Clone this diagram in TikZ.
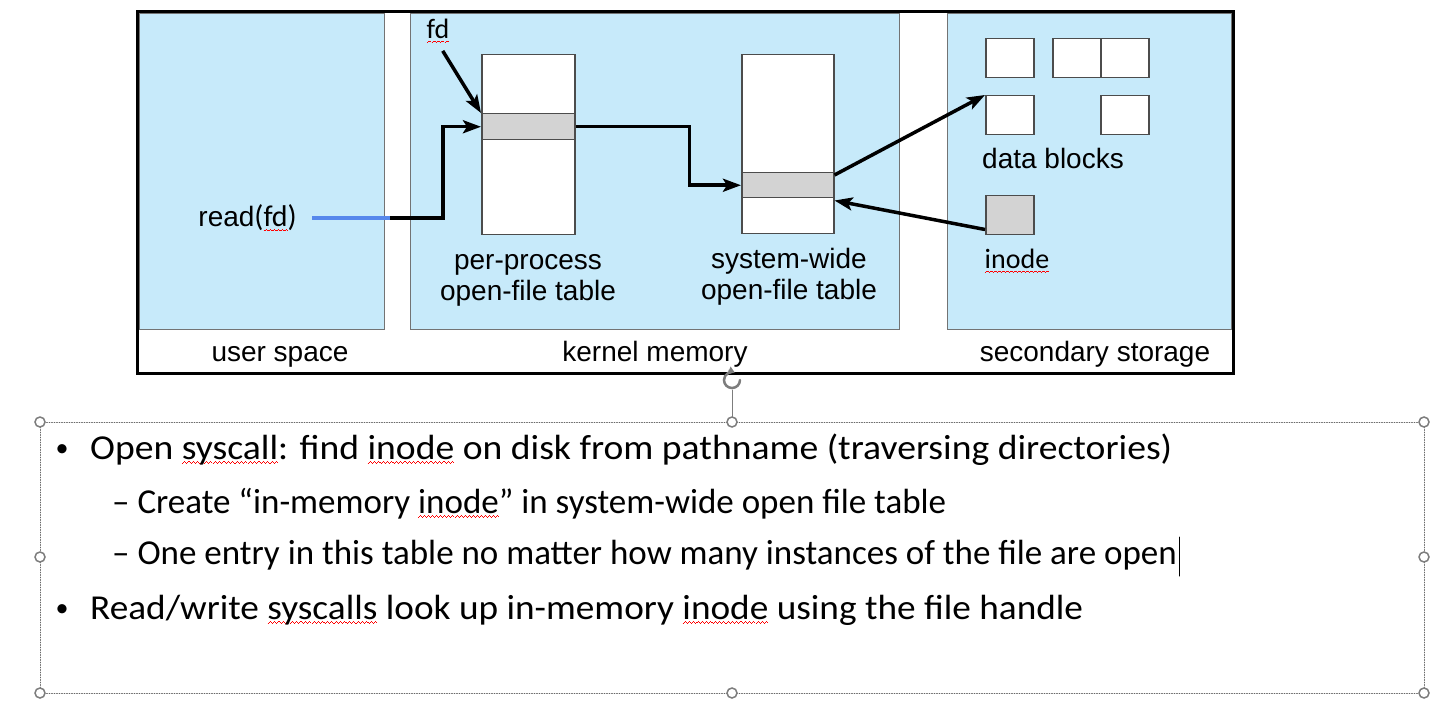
\documentclass[tikz,border=0pt]{standalone}
\usepackage{fontspec}
\setmainfont{Liberation Sans}
\newfontfamily\slidefont{Carlito}
\usetikzlibrary{arrows.meta,calc}
% red wavy underline, as a spell checker draws it
\newsavebox\spellbox
\newcommand\wavebit{\hbox{\rule[-4.6pt]{1pt}{0.9pt}\rule[-3.8pt]{1pt}{0.9pt}\rule[-3pt]{1pt}{0.9pt}\rule[-3.8pt]{1pt}{0.9pt}}}
\newcommand\spellerr[1]{\sbox\spellbox{#1}\rlap{\color{red}\hbox to\wd\spellbox{\xleaders\wavebit\hfil}}\usebox\spellbox}

\begin{document}
\begin{tikzpicture}
		[x=1pt,y=-1pt,line cap=round,
		%Styles
		panel/.style={draw=black!55,line width=1pt,fill=panelblue},
		table box/.style={draw=black!70,line width=1.5pt,fill=white,inner sep=0,anchor=north west},
		entry row/.style={table box,fill=rowgray},
		block/.style={table box,minimum width=48,minimum height=39},
		label text/.style={font=\fontsize{28}{31}\selectfont,inner sep=0,align=center},
		narrow text/.style={label text,font=\slidefont\fontsize{28}{31}\selectfont},
		arrow/.style={line width=3.5pt,line cap=butt,-{Stealth[length=18pt,width=13pt,inset=4pt]}},
		read line/.style={readblue,line width=3.5pt,line cap=butt},
		bullet text/.style={font=\slidefont\fontsize{35}{42}\selectfont,inner sep=0,anchor=base west},
		bullet dot/.style={font=\slidefont\fontsize{26}{30}\selectfont,inner sep=0,anchor=base},
		dotted box/.style={draw=black!60,line width=0.8pt,dash pattern=on 1pt off 1.5pt},
		handle/.style={circle,draw=handlegray,line width=1.5pt,fill=white,inner sep=0,minimum size=10}
		]
		
		%Colors
		\definecolor{panelblue}{RGB}{199,234,250}
		\definecolor{rowgray}{RGB}{211,211,211}
		\definecolor{readblue}{RGB}{86,136,236}
		\definecolor{handlegray}{RGB}{125,125,125}
		
		\useasboundingbox (0,0) rectangle (1449,714);
		
		%The graphic
		\draw[panel] (139,14) rectangle (384,329);
		\draw[panel] (410,14) rectangle (899,329);
		\draw[panel] (947,14) rectangle (1231,329);
		\draw[line width=3pt] (137,12) rectangle (1233,373);
		
		\node[label text,anchor=base] (userlabel) at (280,361) {user space};
		\node[label text,anchor=base] (kernellabel) at (655,361) {kernel memory};
		\node[label text,anchor=base] (storagelabel) at (1095,361) {secondary storage};
		
		%tables
		\node[table box,minimum width=93,minimum height=180] (pp) at (481,54) {};
		\node[entry row,minimum width=93,minimum height=26] (pprow) at (481,113) {};
		\node[table box,minimum width=92,minimum height=179] (sw) at (741,54) {};
		\node[entry row,minimum width=92,minimum height=25] (swrow) at (741,172) {};
		\node[label text] (pplabel) at (528,280) {per-process\\open-file table};
		\node[label text] (swlabel) at (789,277) {system-wide\\open-file table};
		
		%disk
		\node[block] (blockA) at (985,38) {};
		\node[block] (blockB) at (1052,38) {};
		\node[block] (blockC) at (1100,38) {};
		\node[block] (blockD) at (985,95) {};
		\node[block] (blockE) at (1100,95) {};
		\node[block,fill=rowgray] (inodebox) at (985,195) {};
		\node[label text] (dblabel) at (1053,158) {data blocks};
		\node[narrow text] (inodelabel) at (1017,261) {\spellerr{inode}};
		
		\node[narrow text] (fdlabel) at (438,31) {\spellerr{fd}};
		\node[label text,anchor=east] (readlabel) at (297,218) {read{\slidefont\fontsize{30}{31}\selectfont(\spellerr{fd})}};
		\coordinate (readjoin) at (390,218);
		
		%connectors
		\draw[read line,shorten <=15pt] (readlabel.east) -- (readjoin);
		\draw[arrow] (readjoin) -- ++(53,0) |- (pprow.west);
		\draw[arrow,shorten <=9pt] (fdlabel.south) -- (pprow.north west);
		\draw[arrow] (pprow.east) -- ++(114,0) |- (swrow.west);
		\draw[arrow] ($(swrow.north east)+(0,3)$) -- (blockD.north west);
		\draw[arrow] ($(inodebox.south west)+(0,-6)$) -- ($(swrow.south east)+(0,2)$);
		
		%text box
		\draw[handlegray,line width=1pt] (732,390) -- (732,417);
		\draw[handlegray,line width=2.5pt,-{Triangle[length=6pt,width=8pt]}] (740,380) arc[start angle=0,end angle=290,radius=8];
		\draw[dotted box] (40,422) rectangle (1424,693);
		\foreach \hx/\hy in {40/422,732/422,1424/422,40/557,1424/557,40/693,732/693,1424/693}
			\node[handle] at (\hx,\hy) {};
		
		\node[bullet dot] (dotA) at (62,456) {•};
		\node[bullet text] (lineA) at (90,459) {\scalebox{1.075}[1]{Open \spellerr{syscall}: find \spellerr{inode} on disk from pathname (traversing directories)}};
		\node[bullet text] (lineB) at (112,513) {– Create “in-memory \spellerr{inode}” in system-wide open file table};
		\node[bullet text] (lineC) at (112,564) {– One entry in this table no matter how many instances of the file are open};
		\node[bullet dot] (dotD) at (62,616) {•};
		\node[bullet text] (lineD) at (90,619) {\scalebox{1.065}[1]{Read/write \spellerr{syscalls} look up in-memory \spellerr{inode} using the file handle}};
		\draw[line width=1pt] ($(lineC.base east)+(2,12)$) -- ++(0,-39);
	\end{tikzpicture}
\end{document}
